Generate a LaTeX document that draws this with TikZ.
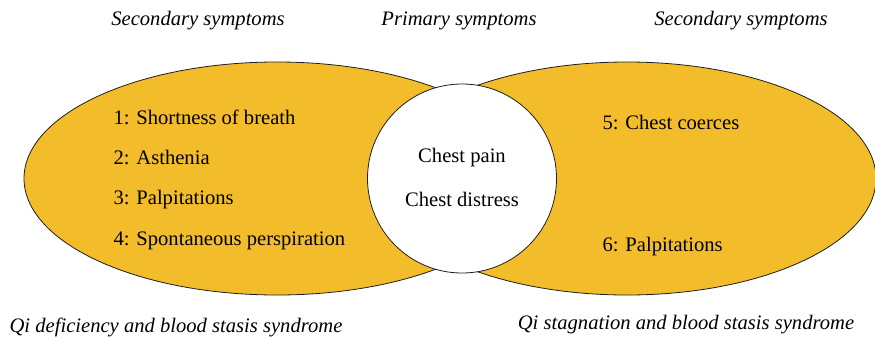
\documentclass[tikz,border=0pt]{standalone}
\usepackage{fontspec}
\setmainfont{Liberation Serif}
\definecolor{fillA}{RGB}{243, 188, 43}
\definecolor{lineA}{RGB}{30, 30, 30}

\begin{document}
\begin{tikzpicture}[x=1pt, y=-1pt, font=\rmfamily\fontsize{20.6}{24}\selectfont]
  \useasboundingbox (0,0) rectangle (875,338);

  \coordinate (L) at (277,178.5);
  \coordinate (R) at (627,178.5);
  \coordinate (P) at (462,178.5);

  \path[draw, color=lineA, fill=fillA, line width=0.8pt] (L) ellipse [x radius=253pt, y radius=116.5pt];
  \path[draw, color=lineA, fill=fillA, line width=0.8pt] (R) ellipse [x radius=249pt, y radius=116.5pt];
  \path[draw, color=lineA, fill=white, line width=0.8pt] (P) circle [radius=94.5pt];

  \node[anchor=base, font=\rmfamily\fontsize{20.6}{24}\selectfont\itshape] (secL) at (198,25) {Secondary symptoms};
  \node[anchor=base, font=\rmfamily\fontsize{20.6}{24}\selectfont\itshape] (prim) at (459,25) {Primary symptoms};
  \node[anchor=base, font=\rmfamily\fontsize{20.6}{24}\selectfont\itshape] (secR) at (741,25) {Secondary symptoms};

  \node[anchor=base west] (s1) at (110,124) {1: Shortness of breath};
  \node[anchor=base west] (s2) at (110,164.5) {2: Asthenia};
  \node[anchor=base west] (s3) at (110,204.5) {3: Palpitations};
  \node[anchor=base west] (s4) at (110,245) {4: Spontaneous perspiration};

  \node[anchor=base] (p1) at (462,162) {Chest pain};
  \node[anchor=base] (p2) at (462,206) {Chest distress};

  \node[anchor=base west] (s5) at (599,129) {5: Chest coerces};
  \node[anchor=base west] (s6) at (599,251) {6: Palpitations};

  \node[anchor=base, font=\rmfamily\fontsize{20.6}{24}\selectfont\itshape] (synL) at (176,332) {Qi deficiency and blood stasis syndrome};
  \node[anchor=base, font=\rmfamily\fontsize{20.6}{24}\selectfont\itshape] (synR) at (686,329) {Qi stagnation and blood stasis syndrome};
\end{tikzpicture}
\end{document}
